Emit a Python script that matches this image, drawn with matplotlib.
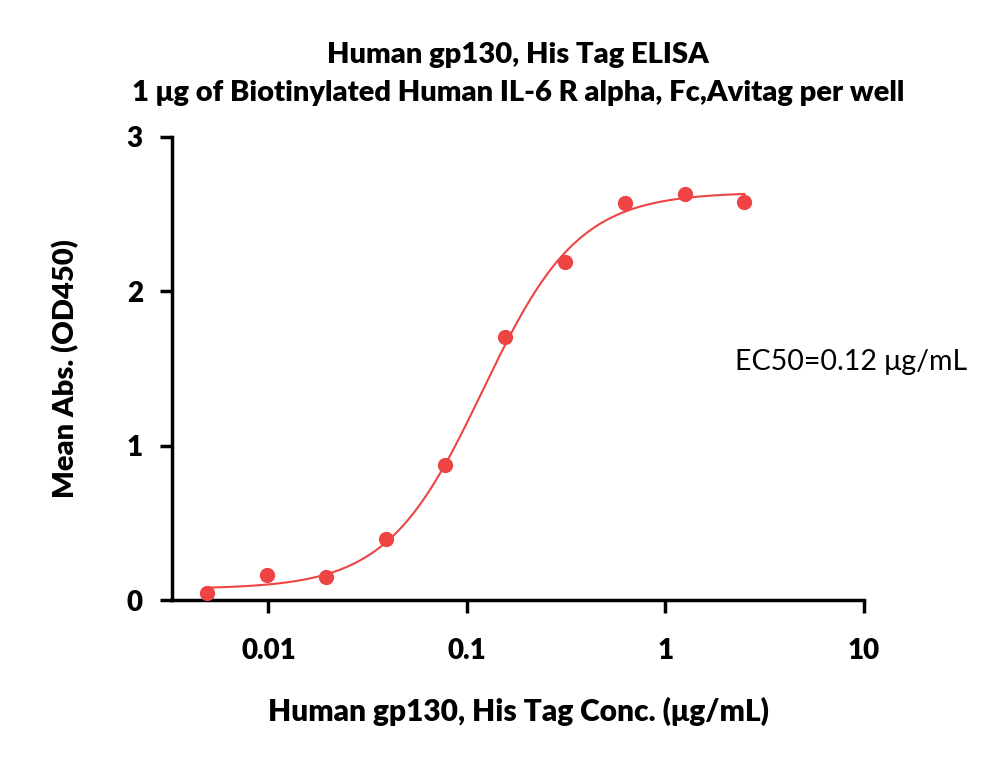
import numpy as np
import matplotlib
matplotlib.use('Agg')
import matplotlib.pyplot as plt
from matplotlib.ticker import FixedLocator, NullLocator

# Measured points
conc = [0.0049, 0.0098, 0.0195, 0.039, 0.078, 0.156, 0.3125, 0.625, 1.25, 2.5]
od450 = [0.047, 0.16, 0.151, 0.393, 0.874, 1.704, 2.186, 2.568, 2.626, 2.578]

# 4PL fit parameters
bottom, top, ec50, hill = 0.072, 2.64, 0.12, 1.8

x_ticks = [0.01, 0.1, 1, 10]
x_labels = ['0.01', '0.1', '1', '10']
y_ticks = [0, 1, 2, 3]

red = '#EE4444'
plt.rcParams['font.family'] = ['Lato', 'DejaVu Sans']

fig = plt.figure(figsize=(10, 7.58), dpi=100)
ax = fig.add_axes([0.172, 0.2084, 0.692, 0.6113])

xs = np.logspace(np.log10(conc[0]), np.log10(conc[-1]), 300)
ys = bottom + (top - bottom) / (1 + (ec50 / xs) ** hill)
ax.plot(xs, ys, color=red, linewidth=1.5, zorder=2)
ax.plot(conc, od450, 'o', color=red, markersize=11, markeredgewidth=0, zorder=3)

ax.set_xscale('log')
ax.set_xlim(0.00327, 10)
ax.set_ylim(0, 3)
ax.xaxis.set_major_locator(FixedLocator(x_ticks))
ax.xaxis.set_minor_locator(NullLocator())
ax.set_xticklabels(x_labels)
ax.set_yticks(y_ticks)

for s in ['top', 'right']:
    ax.spines[s].set_visible(False)
for s in ['left', 'bottom']:
    ax.spines[s].set_linewidth(2.5)
ax.spines['bottom'].set_capstyle('projecting')
ax.tick_params(width=2.5, length=9, labelsize=20)
ax.tick_params(axis='x', pad=18)
ax.tick_params(axis='y', pad=12)
for lbl in ax.get_xticklabels() + ax.get_yticklabels():
    lbl.set_fontweight('heavy')

ax.set_xlabel('Human gp130, His Tag Conc. (μg/mL)', fontsize=21.5, fontweight='heavy', labelpad=24)
ax.set_ylabel('Mean Abs. (OD450)', fontsize=21, fontweight='heavy', labelpad=34)
ax.set_title('Human gp130, His Tag ELISA\n1 μg of Biotinylated Human IL-6 R alpha, Fc,Avitag per well',
             fontsize=21, fontweight='heavy', pad=26, linespacing=1.55)
ax.text(2.23, 1.54, 'EC50=0.12 μg/mL', fontsize=20.5, ha='left', va='center')

fig.savefig('out.png', dpi=100)
